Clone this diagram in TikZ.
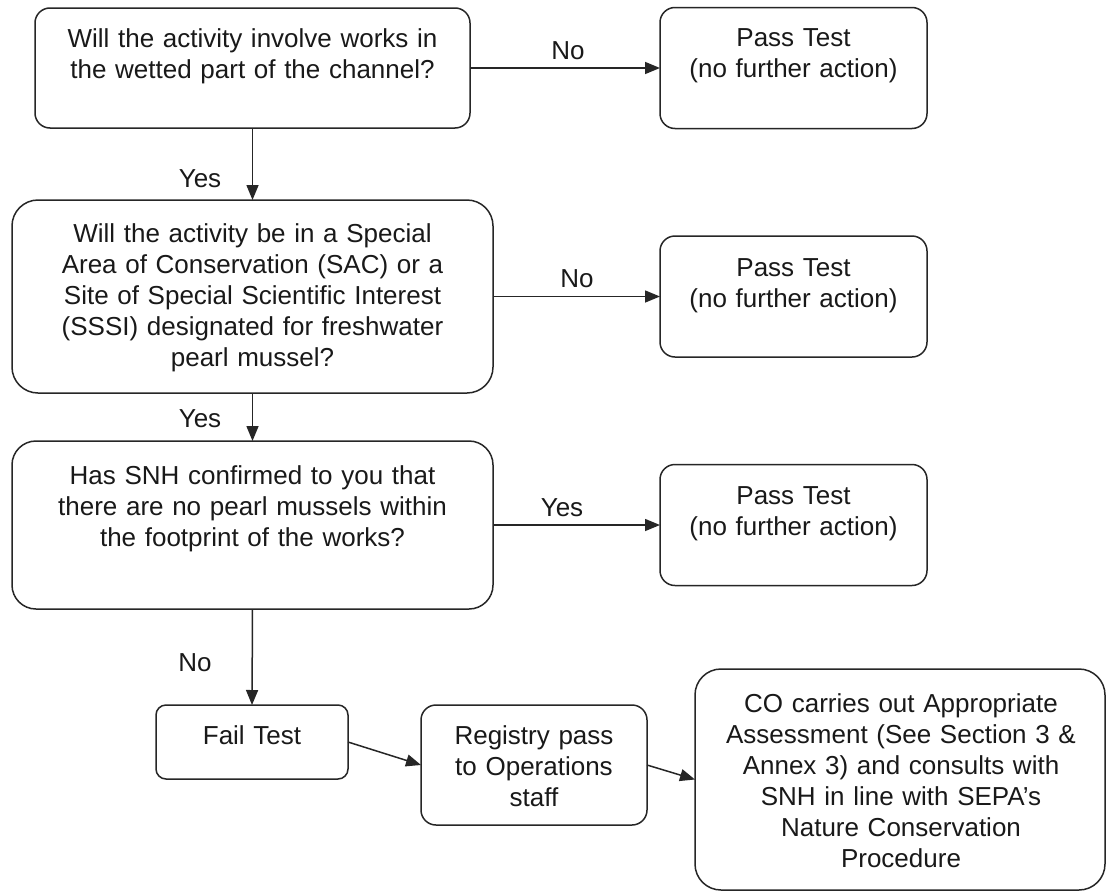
\documentclass[tikz,border=0pt]{standalone}
\usepackage{fontspec}
\setmainfont{Liberation Sans}
\usetikzlibrary{arrows.meta}
\begin{document}
\begin{tikzpicture}[x=1pt,y=-1pt,
  stroke/.style={line width=1.5pt, draw=black!85},
  frame/.style={stroke, fill=white, inner sep=0pt, outer sep=0pt},
  words/.style={font=\fontsize{26pt}{31pt}\selectfont, inner sep=0pt, align=center, anchor=base, text=black!90},
  lbl/.style={font=\fontsize{26pt}{31pt}\selectfont, inner sep=0pt, anchor=base, text=black!90},
  flow/.style={stroke, -{Triangle[length=15pt,width=12pt]}}]
\useasboundingbox (0,0) rectangle (1110,894);
\fill[white] (0,0) rectangle (1110,894);

% question boxes
\node[frame, rounded corners=15pt, minimum width=435pt, minimum height=120pt] (q1) at (252.5,68) {};
\node[words, text width=425pt] (q1t) at (252.5,47) {Will the activity involve works in\\the wetted part of the channel?};

\node[frame, rounded corners=26pt, minimum width=481pt, minimum height=193pt] (q2) at (252.5,296.5) {};
\node[words, text width=470pt] (q2t) at (252.5,242) {Will the activity be in a Special\\Area of Conservation (SAC) or a\\Site of Special Scientific Interest\\(SSSI) designated for freshwater\\pearl mussel?};

\node[frame, rounded corners=24pt, minimum width=481pt, minimum height=168pt] (q3) at (252.5,525) {};
\node[words, text width=470pt] (q3t) at (252.5,484) {Has SNH confirmed to you that\\there are no pearl mussels within\\the footprint of the works?};

% outcome boxes
\node[frame, rounded corners=15pt, minimum width=267pt, minimum height=121pt] (p1) at (793.5,68) {};
\node[words, text width=257pt] (p1t) at (793.5,46) {Pass Test\\(no further action)};

\node[frame, rounded corners=15pt, minimum width=267pt, minimum height=121pt] (p2) at (793.5,296.5) {};
\node[words, text width=257pt] (p2t) at (793.5,276) {Pass Test\\(no further action)};

\node[frame, rounded corners=15pt, minimum width=267pt, minimum height=121pt] (p3) at (793.5,525) {};
\node[words, text width=257pt] (p3t) at (793.5,504) {Pass Test\\(no further action)};

\node[frame, rounded corners=10pt, minimum width=192pt, minimum height=74pt] (fail) at (252,742) {};
\node[words, text width=182pt] (failt) at (252,744) {Fail Test};

\node[frame, rounded corners=15pt, minimum width=226pt, minimum height=120pt] (reg) at (534,765) {};
\node[words, text width=216pt] (regt) at (534,744) {Registry pass\\to Operations\\staff};

\node[frame, rounded corners=26pt, minimum width=410pt, minimum height=221pt] (co) at (900,779.5) {};
\node[words, text width=400pt] (cot) at (901,712) {CO carries out Appropriate\\Assessment (See Section 3 \&\\Annex 3) and consults with\\SNH in line with SEPA’s\\Nature Conservation\\Procedure};

% connectors
\draw[flow] (q1.south) -- (q2.north);
\draw[flow] (q2.south) -- (q3.north);
\draw[flow] (q3.south) -- (fail.north);
\draw[flow] (q1.east) -- (p1.west);
\draw[flow] (q2.east) -- (p2.west);
\draw[flow] (q3.east) -- (p3.west);
\draw[flow] (fail.east) -- (reg.west);
\draw[flow] (reg.east) -- (co.west);

% branch labels
\node[lbl] (l1) at (568,59) {No};
\node[lbl] (l2) at (200,187) {Yes};
\node[lbl] (l3) at (577,287) {No};
\node[lbl] (l4) at (200,427) {Yes};
\node[lbl] (l5) at (562,516) {Yes};
\node[lbl] (l6) at (195,671) {No};
\end{tikzpicture}
\end{document}
